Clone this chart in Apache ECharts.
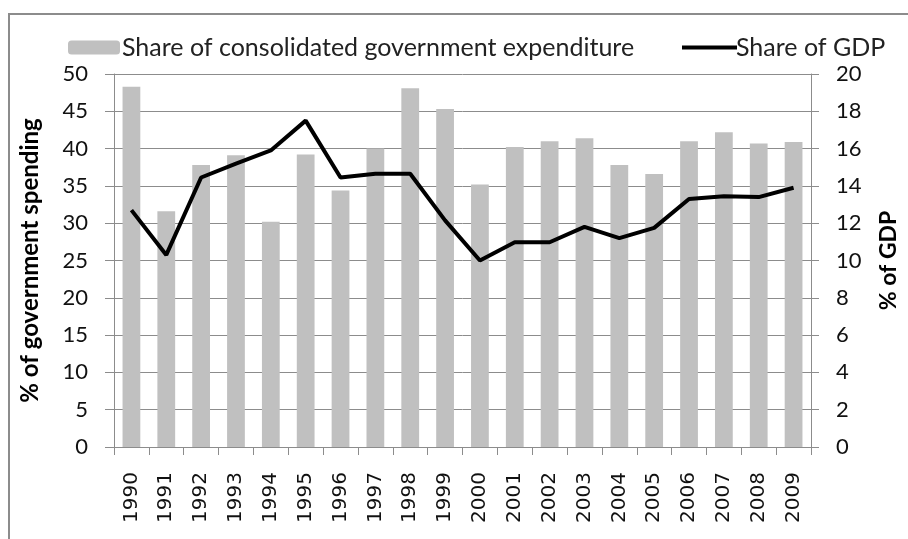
<!DOCTYPE html>
<html>
<head>
<meta charset="utf-8">
<script src="https://cdn.jsdelivr.net/npm/echarts@6/dist/echarts.min.js"></script>
<style>
  html, body { margin: 0; padding: 0; background: #fff; }
  #chart { width: 908px; height: 539px; }
</style>
</head>
<body>
<div id="chart"></div>
<script>
// Years on the category axis
const years = ['1990','1991','1992','1993','1994','1995','1996','1997','1998','1999',
               '2000','2001','2002','2003','2004','2005','2006','2007','2008','2009'];

// Share of consolidated government expenditure (%), left axis
const shareOfSpending = [48.3, 31.6, 37.8, 39.1, 30.2, 39.2, 34.4, 40.0, 48.1, 45.3,
                         35.2, 40.2, 41.0, 41.4, 37.8, 36.6, 41.0, 42.2, 40.7, 40.9];

// Share of GDP (%), right axis
const shareOfGDP = [12.7, 10.3, 14.45, 15.2, 15.9, 17.5, 14.45, 14.65, 14.65, 12.15,
                    10.0, 10.98, 10.98, 11.8, 11.2, 11.75, 13.3, 13.45, 13.4, 13.9];

const leftTicks = { min: 0, max: 50, interval: 5 };
const rightTicks = { min: 0, max: 20, interval: 2 };

const lineGrey = '#8c8c8c';
const numFont = 'Lato, "Open Sans", sans-serif';

const chart = echarts.init(document.getElementById('chart'), null, { renderer: 'canvas' });

chart.setOption({
  animation: false,
  backgroundColor: '#ffffff',
  graphic: [{
    type: 'rect',
    shape: { x: 9, y: 14, width: 1000, height: 1000 },
    style: { fill: 'none', stroke: lineGrey, lineWidth: 2 },
    silent: true
  }],
  legend: [{
    data: ['Share of consolidated government expenditure'],
    left: 63, top: 30,
    itemWidth: 52, itemHeight: 14, itemGap: 0,
    textStyle: { fontFamily: numFont, fontSize: 25, color: '#222', padding: [0, 0, 0, -3] }
  }, {
    data: ['Share of GDP'],
    left: 677, top: 30,
    itemWidth: 55, itemHeight: 16,
    icon: 'path://M0,0 L14,0 L14,1 L0,1 Z',
    textStyle: { fontFamily: numFont, fontSize: 25, color: '#222', padding: [0, 0, 0, -6] }
  }],
  grid: { left: 114, right: 88, top: 74, bottom: 92, containLabel: false },
  xAxis: {
    type: 'category',
    data: years,
    boundaryGap: true,
    axisLine: { lineStyle: { color: lineGrey, width: 1 } },
    axisTick: { show: true, length: 8, lineStyle: { color: lineGrey } },
    axisLabel: {
      rotate: 90, margin: 25, interval: 0,
      fontFamily: '"DejaVu Sans", sans-serif', fontSize: 20, color: '#111'
    },
    splitLine: { show: false }
  },
  yAxis: [{
    type: 'value',
    min: leftTicks.min, max: leftTicks.max, interval: leftTicks.interval,
    name: '% of government spending',
    nameLocation: 'middle',
    nameGap: 72,
    nameRotate: 90,
    nameTextStyle: { fontFamily: numFont, fontWeight: 'bold', fontSize: 24, color: '#000' },
    axisLine: { show: true, lineStyle: { color: lineGrey, width: 1 } },
    axisTick: { show: true, length: 9, lineStyle: { color: lineGrey } },
    axisLabel: { margin: 26, fontFamily: numFont, fontSize: 22, color: '#111' },
    splitLine: { show: true, lineStyle: { color: lineGrey, width: 1 } }
  }, {
    type: 'value',
    position: 'right',
    min: rightTicks.min, max: rightTicks.max, interval: rightTicks.interval,
    name: '% of GDP',
    nameLocation: 'middle',
    nameGap: 66,
    nameRotate: 90,
    nameTextStyle: { fontFamily: numFont, fontWeight: 'bold', fontSize: 23, color: '#000' },
    axisLine: { show: true, lineStyle: { color: lineGrey, width: 1 } },
    axisTick: { show: true, length: 8, lineStyle: { color: lineGrey } },
    axisLabel: { margin: 25, fontFamily: numFont, fontSize: 22, color: '#111' },
    splitLine: { show: false }
  }],
  series: [{
    name: 'Share of consolidated government expenditure',
    type: 'bar',
    yAxisIndex: 0,
    data: shareOfSpending,
    barWidth: '51%',
    itemStyle: { color: '#c0c0c0' }
  }, {
    name: 'Share of GDP',
    type: 'line',
    yAxisIndex: 1,
    data: shareOfGDP,
    symbol: 'none',
    lineStyle: { color: '#000', width: 4 },
    itemStyle: { color: '#000' }
  }]
});
</script>
</body>
</html>
